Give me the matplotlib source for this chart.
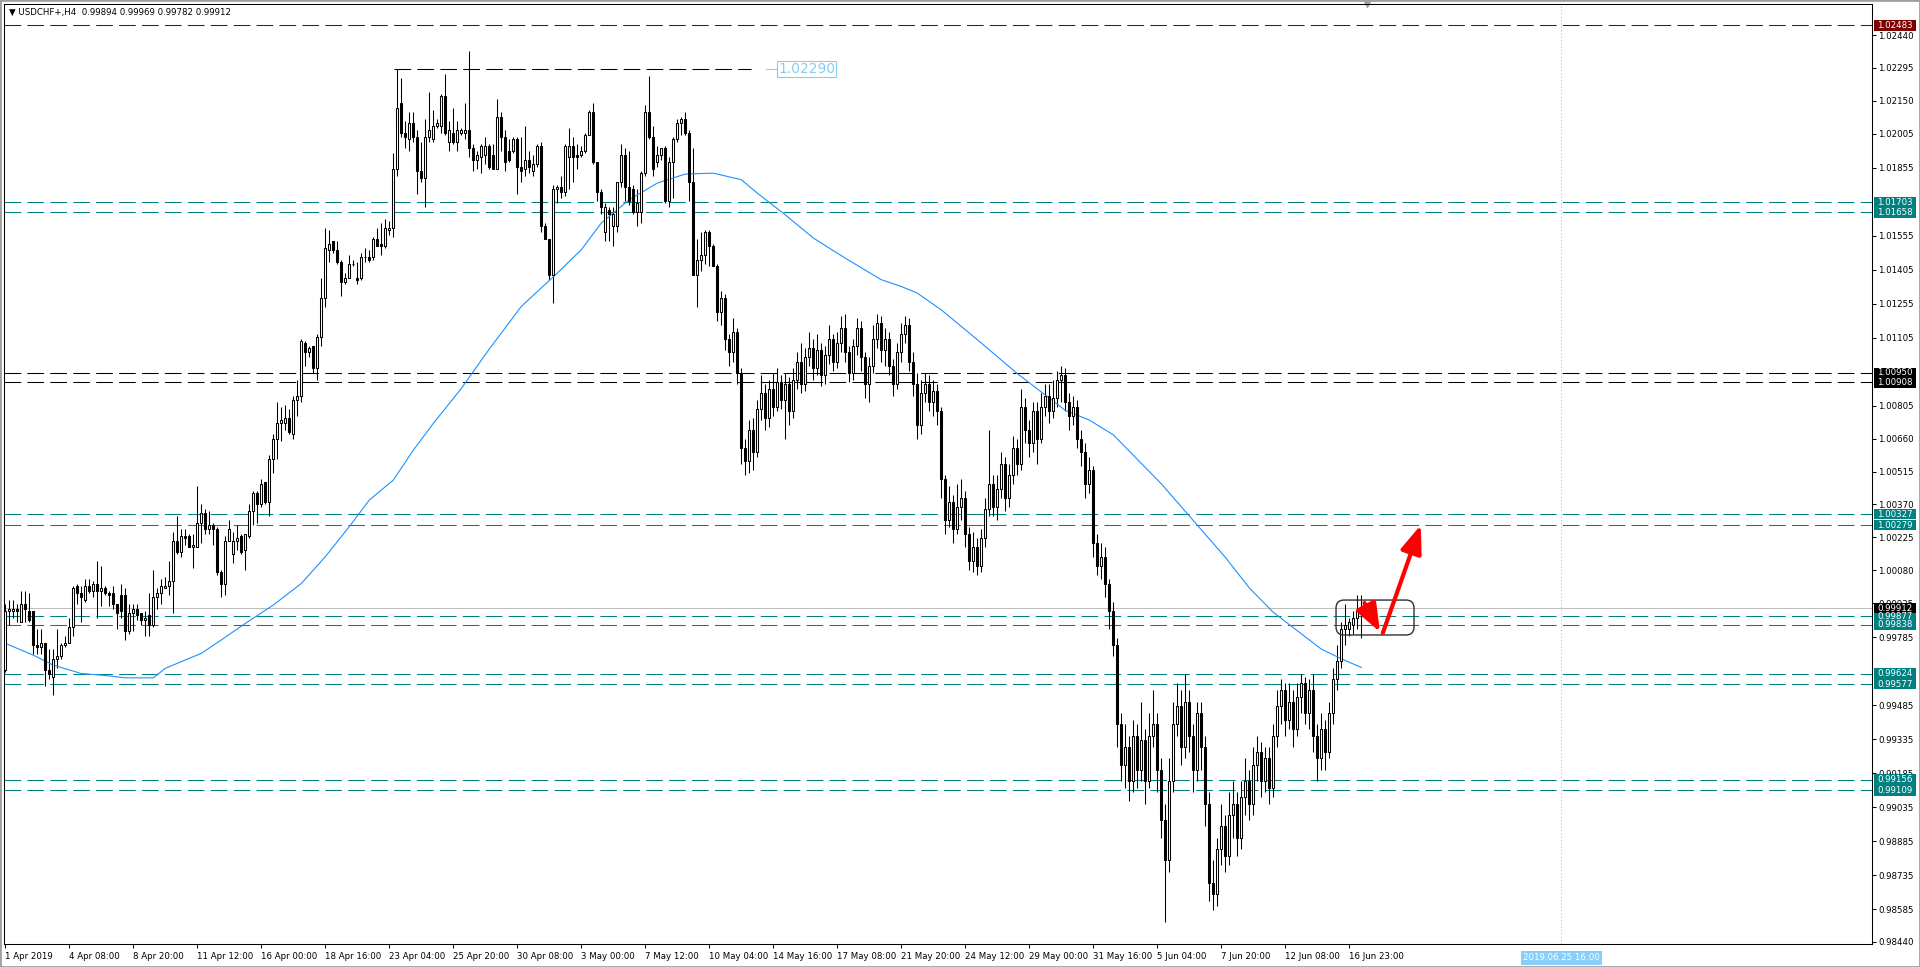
import numpy as np
import matplotlib
matplotlib.use("Agg")
import matplotlib.pyplot as plt
from matplotlib.patches import FancyBboxPatch, Rectangle
from matplotlib.transforms import IdentityTransform

plt.rcParams['font.family'] = ['DejaVu Sans']

# ---- USDCHF+ H4 candles ----
opens = [
    .9964, .9990, .9990, .9991, .9985, .9993, .9990, .9990, .9975, .9974,
    .9976, .9964, .9961, .9969, .9970, .9975, .9976, .9983, 1.0001, .9998,
    .9995, 1.0001, .9999, 1.0002, .9999, 1.0000, .9998, .9998, .9993, .9997,
    .9997, .9981, .9989, .9991, .9989, .9986, .9988, .9984, .9996, .9998,
    1.0000, 1.0001, 1.0003, 1.0021, 1.0016, 1.0023, 1.0023, 1.0018, 1.0018, 1.0029,
    1.0033, 1.0026, 1.0028, 1.0026, 1.0007, 1.0002, 1.0021, 1.0015, 1.0021, 1.0023,
    1.0017, 1.0023, 1.0034, 1.0042, 1.0037, 1.0047, 1.0038, 1.0057, 1.0066, 1.0073,
    1.0073, 1.0075, 1.0068, 1.0083, 1.0085, 1.0108, 1.0104, 1.0107, 1.0097, 1.0111,
    1.0128, 1.0149, 1.0153, 1.0149, 1.0144, 1.0135, 1.0137, 1.0143, 1.0137, 1.0137,
    1.0146, 1.0146, 1.0146, 1.0154, 1.0152, 1.0151, 1.0158, 1.0159, 1.0185, 1.0214,
    1.0201, 1.0198, 1.0205, 1.0199, 1.0184, 1.0181, 1.0199, 1.0198, 1.0204, 1.0204,
    1.0217, 1.0197, 1.0201, 1.0197, 1.0201, 1.0201, 1.0202, 1.0194, 1.0189, 1.0190,
    1.0191, 1.0195, 1.0191, 1.0185, 1.0208, 1.0199, 1.0193, 1.0193, 1.0198, 1.0186,
    1.0185, 1.0189, 1.0184, 1.0187, 1.0195, 1.0160, 1.0154, 1.0138, 1.0176, 1.0177,
    1.0175, 1.0190, 1.0195, 1.0191, 1.0191, 1.0193, 1.0200, 1.0210, 1.0188, 1.0175,
    1.0157, 1.0167, 1.0160, 1.0160, 1.0179, 1.0191, 1.0177, 1.0176, 1.0166, 1.0166,
    1.0183, 1.0210, 1.0199, 1.0188, 1.0191, 1.0194, 1.0171, 1.0188, 1.0198, 1.0205,
    1.0207, 1.0201, 1.0179, 1.0138, 1.0145, 1.0147, 1.0157, 1.0151, 1.0142, 1.0122,
    1.0128, 1.0110, 1.0104, 1.0113, 1.0095, 1.0062, 1.0056, 1.0070, 1.0060, 1.0079,
    1.0086, 1.0075, 1.0088, 1.0080, 1.0091, 1.0083, 1.0090, 1.0078, 1.0092, 1.0100,
    1.0090, 1.0102, 1.0106, 1.0097, 1.0105, 1.0094, 1.0103, 1.0110, 1.0100, 1.0108,
    1.0115, 1.0104, 1.0095, 1.0107, 1.0115, 1.0102, 1.0090, 1.0098, 1.0110, 1.0117,
    1.0105, 1.0110, 1.0098, 1.0090, 1.0104, 1.0112, 1.0116, 1.0100, 1.0090, 1.0072,
    1.0086, 1.0090, 1.0082, 1.0087, 1.0078, 1.0048, 1.0030, 1.0038, 1.0026, 1.0036,
    1.0040, 1.0024, 1.0012, 1.0018, 1.0010, 1.0022, 1.0035, 1.0046, 1.0036, 1.0044,
    1.0055, 1.0040, 1.0050, 1.0062, 1.0055, 1.0080, 1.0070, 1.0064, 1.0078, 1.0066,
    1.0080, 1.0085, 1.0078, 1.0084, 1.0092, 1.0094, 1.0082, 1.0076, 1.0080, 1.0066,
    1.0060, 1.0046, 1.0052, 1.0020, 1.0010, 1.0014, 1.0002, .9990, .9975, .9940,
    .9922, .9930, .9915, .9935, .9920, .9933, .9915, .9935, .9940, .9920,
    .9898, .9880, .9915, .9940, .9948, .9930, .9950, .9935, .9920, .9945,
    .9930, .9905, .9870, .9865, .9885, .9895, .9882, .9900, .9905, .9890,
    .9908, .9915, .9905, .9922, .9928, .9915, .9925, .9912, .9935, .9948,
    .9955, .9942, .9950, .9938, .9952, .9958, .9945, .9955, .9935, .9925,
    .9938, .9928, .9945, .9960, .9968, .9982, .9982, .9984, .9987, .99894,
]
highs = [
    .9993, .9995, .9995, .9993, .9999, .9999, .9998, .9990, .9982, .9982,
    .9976, .9973, .9973, .9982, .9976, .9979, .9987, 1.0001, 1.0002, 1.0001,
    1.0004, 1.0004, 1.0003, 1.0012, 1.0010, 1.0001, .9999, 1.0001, .9993, 1.0002,
    1.0000, .9993, .9993, .9993, .9989, .9990, .9998, 1.0008, 1.0000, 1.0004,
    1.0005, 1.0012, 1.0025, 1.0032, 1.0026, 1.0026, 1.0024, 1.0024, 1.0045, 1.0037,
    1.0035, 1.0034, 1.0029, 1.0027, 1.0008, 1.0023, 1.0030, 1.0025, 1.0028, 1.0024,
    1.0024, 1.0037, 1.0043, 1.0043, 1.0048, 1.0047, 1.0059, 1.0068, 1.0082, 1.0080,
    1.0081, 1.0079, 1.0085, 1.0092, 1.0110, 1.0109, 1.0107, 1.0107, 1.0112, 1.0137,
    1.0159, 1.0158, 1.0153, 1.0153, 1.0145, 1.0139, 1.0147, 1.0145, 1.0144, 1.0148,
    1.0150, 1.0149, 1.0155, 1.0159, 1.0161, 1.0163, 1.0162, 1.0192, 1.0229, 1.0225,
    1.0206, 1.0210, 1.0210, 1.0202, 1.0197, 1.0207, 1.0219, 1.0211, 1.0207, 1.0218,
    1.0227, 1.0206, 1.0212, 1.0206, 1.0203, 1.0214, 1.0237, 1.0196, 1.0193, 1.0196,
    1.0199, 1.0196, 1.0196, 1.0216, 1.0210, 1.0202, 1.0198, 1.0199, 1.0199, 1.0199,
    1.0204, 1.0193, 1.0191, 1.0196, 1.0197, 1.0161, 1.0154, 1.0178, 1.0178, 1.0182,
    1.0196, 1.0203, 1.0199, 1.0196, 1.0195, 1.0201, 1.0211, 1.0214, 1.0188, 1.0176,
    1.0170, 1.0168, 1.0168, 1.0179, 1.0196, 1.0194, 1.0193, 1.0178, 1.0176, 1.0184,
    1.0213, 1.0226, 1.0204, 1.0195, 1.0194, 1.0195, 1.0190, 1.0199, 1.0207, 1.0208,
    1.0210, 1.0202, 1.0194, 1.0154, 1.0157, 1.0158, 1.0158, 1.0152, 1.0143, 1.0131,
    1.0130, 1.0112, 1.0119, 1.0115, 1.0097, 1.0066, 1.0074, 1.0075, 1.0083, 1.0094,
    1.0090, 1.0092, 1.0095, 1.0097, 1.0094, 1.0095, 1.0093, 1.0097, 1.0104, 1.0108,
    1.0106, 1.0113, 1.0110, 1.0112, 1.0108, 1.0107, 1.0116, 1.0112, 1.0113, 1.0120,
    1.0121, 1.0107, 1.0110, 1.0119, 1.0118, 1.0104, 1.0102, 1.0116, 1.0121, 1.0120,
    1.0115, 1.0113, 1.0101, 1.0108, 1.0117, 1.0120, 1.0119, 1.0104, 1.0095, 1.0092,
    1.0095, 1.0094, 1.0092, 1.0090, 1.0080, 1.0050, 1.0045, 1.0041, 1.0046, 1.0048,
    1.0043, 1.0027, 1.0025, 1.0022, 1.0026, 1.0040, 1.0070, 1.0050, 1.0050, 1.0060,
    1.0058, 1.0055, 1.0067, 1.0066, 1.0088, 1.0084, 1.0074, 1.0082, 1.0082, 1.0086,
    1.0090, 1.0090, 1.0092, 1.0096, 1.0098, 1.0097, 1.0086, 1.0085, 1.0083, 1.0070,
    1.0064, 1.0058, 1.0054, 1.0024, 1.0020, 1.0018, 1.0004, .9994, .9978, .9945,
    .9940, .9935, .9942, .9940, .9950, .9938, .9945, .9955, .9945, .9925,
    .9905, .9925, .9950, .9958, .9955, .9962, .9955, .9940, .9950, .9950,
    .9935, .9910, .9880, .9890, .9905, .9900, .9910, .9915, .9910, .9915,
    .9925, .9920, .9930, .9935, .9932, .9930, .9930, .9940, .9955, .9960,
    .9958, .9958, .9955, .9958, .9962, .9961, .9960, .9962, .9940, .9945,
    .9942, .9950, .9965, .9975, .9985, .9993, .9987, .9990, .9997, .99969,
]
lows = [
    .9963, .9984, .9987, .9985, .9985, .9985, .9985, .9971, .9971, .9971,
    .9957, .9960, .9953, .9965, .9969, .9974, .9976, .9979, .9993, .9985,
    .9994, .9998, .9996, .9987, .9992, .9997, .9992, .9991, .9982, .9987,
    .9977, .9980, .9981, .9986, .9984, .9979, .9979, .9983, .9991, .9993,
    1.0000, .9997, .9989, 1.0015, 1.0014, 1.0019, 1.0018, 1.0009, 1.0018, 1.0020,
    1.0024, 1.0024, 1.0019, 1.0006, .9996, .9997, 1.0021, 1.0011, 1.0017, 1.0015,
    1.0008, 1.0022, 1.0028, 1.0029, 1.0036, 1.0037, 1.0032, 1.0051, 1.0057, 1.0065,
    1.0070, 1.0068, 1.0066, 1.0076, 1.0082, 1.0098, 1.0102, 1.0095, 1.0092, 1.0107,
    1.0124, 1.0144, 1.0148, 1.0143, 1.0129, 1.0134, 1.0137, 1.0142, 1.0134, 1.0136,
    1.0144, 1.0144, 1.0145, 1.0151, 1.0147, 1.0150, 1.0156, 1.0155, 1.0182, 1.0199,
    1.0194, 1.0193, 1.0197, 1.0174, 1.0179, 1.0168, 1.0197, 1.0197, 1.0203, 1.0201,
    1.0200, 1.0193, 1.0196, 1.0193, 1.0200, 1.0198, 1.0190, 1.0184, 1.0185, 1.0183,
    1.0187, 1.0185, 1.0185, 1.0185, 1.0193, 1.0184, 1.0188, 1.0192, 1.0174, 1.0179,
    1.0182, 1.0183, 1.0182, 1.0186, 1.0157, 1.0154, 1.0136, 1.0126, 1.0170, 1.0172,
    1.0173, 1.0176, 1.0179, 1.0185, 1.0190, 1.0192, 1.0200, 1.0187, 1.0171, 1.0165,
    1.0153, 1.0153, 1.0151, 1.0157, 1.0177, 1.0171, 1.0169, 1.0165, 1.0160, 1.0161,
    1.0182, 1.0198, 1.0182, 1.0186, 1.0189, 1.0170, 1.0168, 1.0172, 1.0197, 1.0200,
    1.0200, 1.0171, 1.0138, 1.0124, 1.0140, 1.0143, 1.0142, 1.0142, 1.0118, 1.0116,
    1.0105, 1.0098, 1.0100, 1.0090, 1.0055, 1.0050, 1.0051, 1.0052, 1.0058, 1.0074,
    1.0070, 1.0071, 1.0076, 1.0078, 1.0079, 1.0066, 1.0072, 1.0075, 1.0088, 1.0086,
    1.0087, 1.0098, 1.0092, 1.0094, 1.0089, 1.0090, 1.0099, 1.0096, 1.0097, 1.0104,
    1.0100, 1.0091, 1.0092, 1.0103, 1.0096, 1.0084, 1.0082, 1.0095, 1.0106, 1.0100,
    1.0098, 1.0094, 1.0085, 1.0088, 1.0100, 1.0108, 1.0096, 1.0085, 1.0066, 1.0068,
    1.0082, 1.0078, 1.0076, 1.0072, 1.0040, 1.0024, 1.0027, 1.0020, 1.0024, 1.0030,
    1.0018, 1.0008, 1.0007, 1.0006, 1.0007, 1.0018, 1.0032, 1.0032, 1.0030, 1.0040,
    1.0034, 1.0036, 1.0046, 1.0050, 1.0052, 1.0064, 1.0058, 1.0060, 1.0055, 1.0064,
    1.0076, 1.0073, 1.0075, 1.0080, 1.0082, 1.0078, 1.0070, 1.0072, 1.0062, 1.0054,
    1.0040, 1.0042, 1.0014, 1.0006, 1.0004, .9996, .9982, .9970, .9930, .9915,
    .9912, .9906, .9910, .9912, .9915, .9905, .9912, .9930, .9910, .9890,
    .9853, .9875, .9910, .9935, .9922, .9925, .9928, .9910, .9915, .9920,
    .9895, .9862, .9858, .9860, .9878, .9875, .9878, .9890, .9882, .9885,
    .9900, .9898, .9900, .9915, .9908, .9910, .9905, .9908, .9930, .9940,
    .9935, .9938, .9930, .9935, .9945, .9940, .9938, .9928, .9915, .9920,
    .9920, .9925, .9940, .9955, .9965, .9975, .9979, .9980, .9982, .99782,
]
closes = [
    .9990, .9991, .9991, .9990, .9993, .9991, .9986, .9975, .9974, .9976,
    .9964, .9962, .9969, .9970, .9975, .9976, .9983, 1.0000, .9998, .9996,
    1.0001, .9999, 1.0002, .9999, 1.0000, .9998, .9997, .9993, .9989, .9990,
    .9981, .9989, .9991, .9988, .9986, .9987, .9984, .9996, .9998, 1.0001,
    1.0001, 1.0003, 1.0021, 1.0016, 1.0023, 1.0022, 1.0018, 1.0019, 1.0029, 1.0033,
    1.0026, 1.0028, 1.0026, 1.0007, 1.0002, 1.0021, 1.0026, 1.0021, 1.0022, 1.0016,
    1.0024, 1.0034, 1.0042, 1.0037, 1.0046, 1.0038, 1.0057, 1.0066, 1.0073, 1.0074,
    1.0075, 1.0069, 1.0083, 1.0085, 1.0109, 1.0104, 1.0106, 1.0097, 1.0111, 1.0128,
    1.0150, 1.0152, 1.0149, 1.0144, 1.0135, 1.0137, 1.0143, 1.0143, 1.0136, 1.0146,
    1.0146, 1.0145, 1.0154, 1.0151, 1.0151, 1.0159, 1.0159, 1.0185, 1.0212, 1.0201,
    1.0199, 1.0205, 1.0199, 1.0184, 1.0181, 1.0199, 1.0202, 1.0204, 1.0205, 1.0217,
    1.0201, 1.0202, 1.0197, 1.0202, 1.0202, 1.0202, 1.0194, 1.0189, 1.0191, 1.0195,
    1.0195, 1.0186, 1.0185, 1.0208, 1.0199, 1.0188, 1.0189, 1.0198, 1.0186, 1.0184,
    1.0189, 1.0186, 1.0187, 1.0195, 1.0160, 1.0154, 1.0138, 1.0176, 1.0177, 1.0175,
    1.0195, 1.0195, 1.0190, 1.0190, 1.0193, 1.0200, 1.0210, 1.0188, 1.0175, 1.0168,
    1.0168, 1.0165, 1.0165, 1.0179, 1.0191, 1.0177, 1.0171, 1.0166, 1.0170, 1.0183,
    1.0210, 1.0199, 1.0185, 1.0191, 1.0194, 1.0171, 1.0188, 1.0198, 1.0205, 1.0207,
    1.0201, 1.0179, 1.0138, 1.0145, 1.0147, 1.0157, 1.0151, 1.0142, 1.0122, 1.0128,
    1.0110, 1.0104, 1.0113, 1.0095, 1.0062, 1.0056, 1.0070, 1.0060, 1.0079, 1.0086,
    1.0075, 1.0088, 1.0080, 1.0091, 1.0083, 1.0090, 1.0078, 1.0092, 1.0100, 1.0090,
    1.0102, 1.0106, 1.0097, 1.0105, 1.0094, 1.0103, 1.0110, 1.0100, 1.0108, 1.0115,
    1.0104, 1.0095, 1.0107, 1.0115, 1.0102, 1.0090, 1.0098, 1.0110, 1.0117, 1.0105,
    1.0110, 1.0098, 1.0090, 1.0104, 1.0112, 1.0116, 1.0100, 1.0090, 1.0072, 1.0086,
    1.0090, 1.0082, 1.0087, 1.0078, 1.0048, 1.0030, 1.0038, 1.0026, 1.0036, 1.0040,
    1.0024, 1.0012, 1.0018, 1.0010, 1.0022, 1.0035, 1.0046, 1.0036, 1.0044, 1.0055,
    1.0040, 1.0050, 1.0062, 1.0055, 1.0080, 1.0070, 1.0064, 1.0078, 1.0066, 1.0080,
    1.0085, 1.0078, 1.0084, 1.0092, 1.0094, 1.0082, 1.0076, 1.0080, 1.0066, 1.0060,
    1.0046, 1.0052, 1.0020, 1.0010, 1.0014, 1.0002, .9990, .9975, .9940, .9922,
    .9930, .9915, .9935, .9920, .9933, .9915, .9935, .9940, .9920, .9898,
    .9880, .9915, .9940, .9948, .9930, .9950, .9935, .9920, .9945, .9930,
    .9905, .9870, .9865, .9885, .9895, .9882, .9900, .9905, .9890, .9908,
    .9915, .9905, .9922, .9928, .9915, .9925, .9912, .9935, .9948, .9955,
    .9942, .9950, .9938, .9952, .9958, .9945, .9955, .9935, .9925, .9938,
    .9928, .9945, .9960, .9968, .9982, .9984, .9985, .9987, .9990, .99912,
]

# moving average (blue line), sampled at these bars
ma_bars = [0, 7, 12, 19, 24, 30, 37, 40, 49, 54, 60, 67, 74, 80, 86, 91, 97, 102,
           107, 114, 121, 129, 138, 144, 149, 156, 163, 170, 177, 184, 188, 195,
           202, 210, 219, 224, 228, 234, 244, 253, 259, 265, 271, 277, 283, 289,
           297, 305, 311, 317, 323, 329, 334, 339]
ma_values = [0.99757, 0.99705, 0.99661, 0.99624, 0.99617, 0.99605, 0.99605, 0.99647,
             0.99713, 0.99772, 0.99845, 0.99926, 1.00021, 1.00139, 1.00272, 1.00389,
             1.00477, 1.00609, 1.00727, 1.00881, 1.01055, 1.01243, 1.01390, 1.01493,
             1.01611, 1.01714, 1.01787, 1.01827, 1.01831, 1.01802, 1.01743, 1.01647,
             1.01545, 1.01456, 1.01361, 1.01331, 1.01302, 1.01228, 1.01082, 1.00947,
             1.00866, 1.00785, 1.00742, 1.00677, 1.00569, 1.00461, 1.00299, 1.00137,
             1.00002, 0.99894, 0.99813, 0.99732, 0.99689, 0.99651]

time_labels = ["1 Apr 2019", "4 Apr 08:00", "8 Apr 20:00", "11 Apr 12:00", "16 Apr 00:00",
               "18 Apr 16:00", "23 Apr 04:00", "25 Apr 20:00", "30 Apr 08:00", "3 May 00:00",
               "7 May 12:00", "10 May 04:00", "14 May 16:00", "17 May 08:00", "21 May 20:00",
               "24 May 12:00", "29 May 00:00", "31 May 16:00", "5 Jun 04:00", "7 Jun 20:00",
               "12 Jun 08:00", "16 Jun 23:00"]
bars_per_label = 16

price_ticks = [1.02440, 1.02295, 1.02150, 1.02005, 1.01855, 1.01555, 1.01405,
               1.01255, 1.01105, 1.00805, 1.00660, 1.00515, 1.00370, 1.00225,
               1.00080, 0.99935, 0.99785, 0.99485, 0.99335, 0.99185, 0.99035,
               0.98885, 0.98735, 0.98585, 0.98440]

teal_levels = [1.01703, 1.01658, 1.00327, 1.00279, 0.99877, 0.99838, 0.99624, 0.99577,
               0.99156, 0.99109]
black_levels = [1.00950, 1.00908]
red_level = 1.02483
bid_price = 0.99912
high_mark = 1.02290
future_bar = 389
future_label = "2019.06.25 16:00"
title = "\u25bc USDCHF+,H4  0.99894 0.99969 0.99782 0.99912"

TEAL = '#008080'
MAROON = '#800000'
SKY = '#87CEEB'

# ---- figure ----
W, H = 1920, 967
fig = plt.figure(figsize=(W / 100, H / 100), dpi=100)
fig.patch.set_facecolor('white')
ax = fig.add_axes([4 / W, 23 / H, 1868 / W, 940 / H])
ax.set_facecolor('white')
ax.set_xlim(-0.33, 466.7)
ax.set_ylim(0.98431, 1.02577)

o = np.array(opens); h = np.array(highs); l = np.array(lows); c = np.array(closes)
x = np.arange(len(o))

# horizontal levels
dash = (0, (16, 6))
for lv in teal_levels:
    ax.axhline(lv, color=TEAL, lw=0.75, ls=dash, zorder=2)
for lv in black_levels:
    ax.axhline(lv, color='black', lw=0.75, ls=dash, zorder=2)
ax.axhline(red_level, color=MAROON, lw=0.75, ls=dash, zorder=2)
ax.axhline(bid_price, color='#C0C0C0', lw=0.75, zorder=1.5)

# trend line at the swing high + its label
ax.plot([97.2, 186.4], [high_mark, high_mark], color='black', lw=0.75, ls=dash, zorder=2)
ax.plot([190.2, 192.7], [high_mark, high_mark], color=SKY, lw=0.75, zorder=2)
ax.text(193.2, high_mark, "%.5f" % high_mark, color=SKY, fontsize=10, va='center', ha='left',
        bbox=dict(boxstyle='square,pad=0.06', fc='white', ec=SKY, lw=0.8), zorder=5)

# future time marker
ax.axvline(future_bar, color='#87CEFA', lw=0.8, ls=(0, (1, 2)), zorder=1)

# candles
ax.vlines(x, l, h, color='black', lw=0.75, zorder=3)
bull = c >= o
ax.bar(x, np.abs(c - o), bottom=np.minimum(o, c), width=0.5,
       color=np.where(bull, 'white', 'black'), edgecolor='black', linewidth=0.75, zorder=4)

# moving average
ax.plot(ma_bars, ma_values, color='#1E90FF', lw=0.8, zorder=3.5)

# ---- axes styling ----
for s in ax.spines.values():
    s.set_color('black')
    s.set_linewidth(0.75)
ax.yaxis.tick_right()
ax.set_yticks(price_ticks)
ax.set_yticklabels(["%.5f" % p for p in price_ticks])
ax.tick_params(axis='y', length=3, width=0.75, pad=1.5, labelsize=6.2, colors='black')
ax.set_xticks([k * bars_per_label for k in range(len(time_labels))])
ax.set_xticklabels(time_labels)
for t in ax.get_xticklabels():
    t.set_horizontalalignment('left')
ax.tick_params(axis='x', length=3, width=0.75, pad=2.5, labelsize=6.2, colors='black')

# price labels on the right axis
ytr = ax.get_yaxis_transform()
px_per_price = ax.transData.transform((0, 1.0))[1] - ax.transData.transform((0, 0.0))[1]
box_h = 10.5 / px_per_price
box_x0, box_w = (1874 - 4) / 1868, 42 / 1868
right_labels = [(red_level, MAROON)] + [(lv, TEAL) for lv in teal_levels] + \
               [(lv, 'black') for lv in black_levels] + [(bid_price, 'black')]
for lv, col in right_labels:
    ax.add_patch(Rectangle((box_x0, lv - box_h / 2), box_w, box_h, transform=ytr,
                           fc=col, ec='none', clip_on=False, zorder=10))
for lv, col in right_labels:
    ax.text(box_x0 + box_w / 2, lv, "%.5f" % lv, transform=ytr, color='white',
            fontsize=6.2, ha='center', va='center', clip_on=False, zorder=11)

# future time label on the time axis
xtr = ax.get_xaxis_transform()
ax.text(future_bar, -14 / 940, future_label, transform=xtr, color='white', fontsize=6.2,
        ha='center', va='center', clip_on=False, zorder=11,
        bbox=dict(boxstyle='square,pad=0.25', fc='#87CEFA', ec='none'))

# title
ax.text(5 / 1868, 1 - 8.5 / 940, title, transform=ax.transAxes, fontsize=6.2,
        ha='left', va='center', color='black', zorder=12)

# chart shift marker
ax.plot([340.4], [1.0], transform=xtr, marker='v', ms=5, color='#A0A0A0', clip_on=False)

# ---- annotations: box + red arrows ----
p0 = ax.transData.transform((332.7, 0.99948))
p1 = ax.transData.transform((352.2, 0.99794))
ax.add_artist(FancyBboxPatch((p0[0], p1[1]), p1[0] - p0[0], p0[1] - p1[1],
                             boxstyle='round,pad=0,rounding_size=8', transform=IdentityTransform(),
                             fc='none', ec='#303030', lw=1.0, zorder=6))
arrow_kw = dict(arrowstyle='-|>,head_length=17,head_width=6.5', color='red', lw=3,
                mutation_scale=1, shrinkA=0, shrinkB=0)
ax.annotate('', xy=(353.9, 1.00279), xytext=(344.4, 0.99803), arrowprops=arrow_kw, zorder=7)
ax.annotate('', xy=(343.7, 0.99807), xytext=(339.8, 0.99935), arrowprops=arrow_kw, zorder=7)

fig.patches.append(Rectangle((0, 0), 1, 1, transform=fig.transFigure, fill=False,
                             ec='#A0A0A0', lw=2))

fig.savefig('out.png', dpi=100, facecolor='white')
